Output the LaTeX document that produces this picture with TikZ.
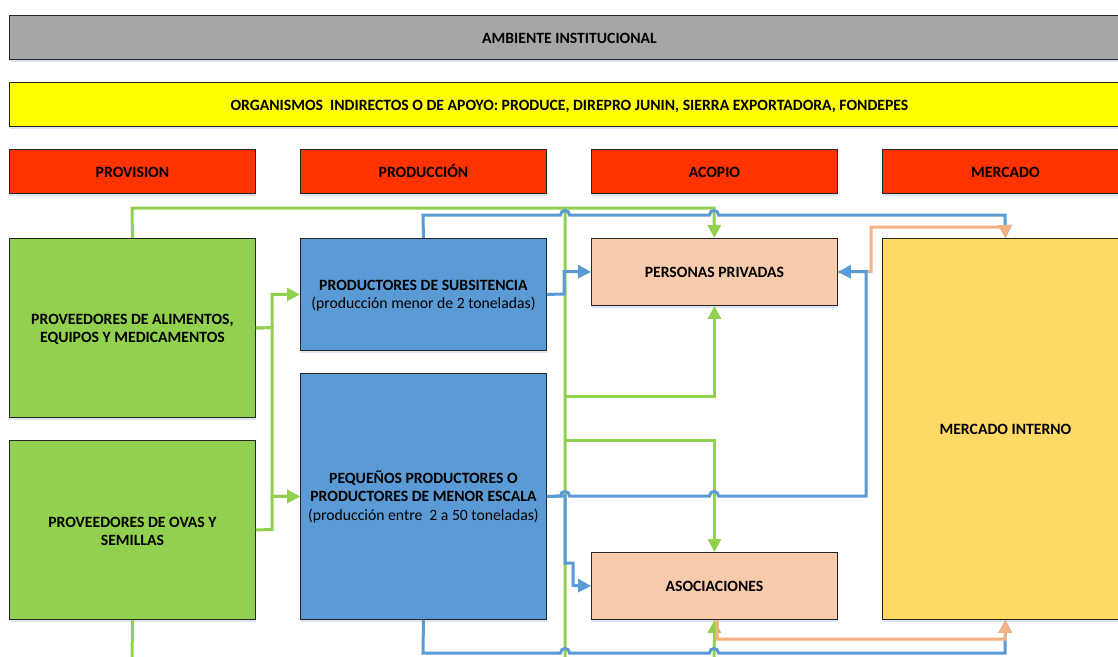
\documentclass[tikz,border=0pt]{standalone}
\usepackage{fontspec}
\setmainfont{Carlito}
\usetikzlibrary{arrows.meta,shadows}
\definecolor{cgray}{HTML}{A6A6A6}
\definecolor{cyellow}{HTML}{FFFF00}
\definecolor{cred}{HTML}{FF3300}
\definecolor{cgreen}{HTML}{92D050}
\definecolor{cblue}{HTML}{5B9BD5}
\definecolor{cpeach}{HTML}{F8CBAD}
\definecolor{cmerc}{HTML}{FFD966}
\definecolor{corange}{HTML}{F4B183}
\definecolor{cshadow}{HTML}{9DB3D6}
\tikzset{
  box/.style={draw=black!85, line width=0.9pt, anchor=north west, inner sep=2pt,
    minimum width=246pt, align=center, font=\fontsize{15.7}{18.5}\selectfont\bfseries,
    drop shadow={shadow xshift=1pt, shadow yshift=-2.5pt, opacity=0.35, fill=cshadow}},
  onel/.style={text height=13pt, text depth=1pt},
  lg/.style={draw=cgreen, line width=3pt},
  lb/.style={draw=cblue, line width=3pt},
  lo/.style={draw=corange, line width=3pt},
  tip/.style={-{Triangle[length=13pt,width=13pt]}}
}
\begin{document}
\begin{tikzpicture}[x=1pt,y=-1pt]
\useasboundingbox (0,0) rectangle (1118,656);
\clip (0,0) rectangle (1118,656);
% header bands
\node[box, onel, fill=cgray, minimum width=1120pt, minimum height=44pt] (amb) at (9,15) {AMBIENTE INSTITUCIONAL};
\node[box, onel, fill=cyellow, minimum width=1120pt, minimum height=44pt] (org) at (9,82) {ORGANISMOS\ \ INDIRECTOS O DE APOYO: PRODUCE, DIREPRO JUNIN, SIERRA EXPORTADORA, FONDEPES};
\node[box, onel, fill=cred, minimum height=44pt] (hprov) at (9,149) {PROVISION};
\node[box, onel, fill=cred, minimum height=44pt] (hprod) at (300,149) {PRODUCCIÓN};
\node[box, onel, fill=cred, minimum height=44pt] (hacop) at (591,149) {ACOPIO};
\node[box, onel, fill=cred, minimum height=44pt] (hmerc) at (882,149) {MERCADO};
% main boxes
\node[box, fill=cgreen, minimum height=179pt] (alim) at (9,238) {\rule{0pt}{13pt}PROVEEDORES DE ALIMENTOS,\\EQUIPOS Y MEDICAMENTOS};
\node[box, fill=cgreen, minimum height=179pt] (ovas) at (9,440) {\rule{0pt}{13pt}PROVEEDORES DE OVAS Y\\SEMILLAS};
\node[box, fill=cblue, minimum height=112pt] (subs) at (300,238) {\rule{0pt}{13pt}PRODUCTORES DE SUBSITENCIA\\{\mdseries (producción menor de 2 toneladas)}};
\node[box, fill=cblue, minimum height=246pt] (peq) at (300,373) {\rule{0pt}{13pt}PEQUEÑOS PRODUCTORES O\\PRODUCTORES DE MENOR ESCALA\\{\mdseries (producción entre\ \ 2 a 50 toneladas)}};
\node[box, onel, fill=cpeach, minimum height=67pt] (pp) at (591,238) {PERSONAS PRIVADAS};
\node[box, onel, fill=cpeach, minimum height=67pt] (asoc) at (591,552) {ASOCIACIONES};
\node[box, onel, fill=cmerc, minimum height=381pt] (mi) at (882,238) {MERCADO INTERNO};
% free ends beyond the bottom edge
\coordinate (gbot1) at (132,670);
\coordinate (gbot2) at (565,670);
\coordinate (gbot3) at (714,670);
% green connectors
\draw[lg] (alim.north) -- (132,208) -- (565,208) -- (gbot2);
\draw[lg, tip] (565,208) -- (714,208) -- (pp.north);
\draw[lg, tip] (565,396) -| (pp.south);
\draw[lg, tip] (565,440) -| (asoc.north);
\draw[lg, tip] (gbot3) -- (asoc.south);
\draw[lg] (ovas.south) -- (gbot1);
\draw[lg, tip] (alim.east) -- (272,327.5) |- (subs.west);
\draw[lg, tip] (alim.east) -- (272,327.5) |- (peq.west);
\draw[lg, tip] (ovas.east) -- (272,529.5) |- (peq.west);
% blue connectors
\draw[lb, tip] (subs.north) -- (423,215) -- (560.5,215) .. controls (560.5,209) and (569.5,209) .. (569.5,215)
  -- (709.5,215) .. controls (709.5,209) and (718.5,209) .. (718.5,215) -- (1005,215) -- (mi.north);
\draw[lb, tip] (subs.east) -- (564,294) -- (564,271.5) -- (pp.west);
\draw[lb, tip] (peq.east) -- (565,496) -- (565,563) -- (573,563) -- (573,585.5) -- (asoc.west);
\draw[lb, tip] (peq.south) -- (423,653) -- (560.5,653) .. controls (560.5,647) and (569.5,647) .. (569.5,653)
  -- (709.5,653) .. controls (709.5,647) and (718.5,647) .. (718.5,653) -- (1005,653) -- (mi.south);
% orange connectors
\draw[lo, tip] (pp.east) -- (871,271.5) -- (871,227) -- (1005,227) -- (mi.north);
\draw[lo, tip] ([xshift=3pt]asoc.south) -- (717,639) -- (1005,639) -- (mi.south);
% blue connector to personas privadas (drawn over orange)
\draw[lb, tip] (peq.east) -- (560.5,496) .. controls (560.5,490) and (569.5,490) .. (569.5,496)
  -- (709.5,496) .. controls (709.5,490) and (718.5,490) .. (718.5,496) -- (866,496) -- (866,271.5) -- (pp.east);
\end{tikzpicture}
\end{document}
